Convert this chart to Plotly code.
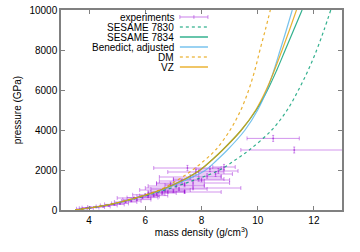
import plotly.graph_objects as go

# ---- model curves: density (g/cm^3) at given pressures (GPa) ----
pressure_grid = [0, 250, 500, 1000, 1500, 2000, 2500, 3000, 4000, 5000, 6000, 7000, 8000, 9000, 10000]
sesame_7830 = [3.5, 4.68, 5.45, 6.7, 7.75, 8.65, 9.2, 9.7, 10.5, 11.05, 11.45, 11.8, 12.1, 12.36, 12.6]
sesame_7834 = [3.5, 4.65, 5.4, 6.55, 7.35, 7.95, 8.37, 8.75, 9.42, 9.95, 10.35, 10.68, 10.98, 11.28, 11.58]
benedict_adj = [3.5, 4.65, 5.4, 6.6, 7.45, 8.15, 8.55, 8.92, 9.55, 10.0, 10.33, 10.58, 10.8, 11.02, 11.23]
dm = [3.5, 4.63, 5.37, 6.5, 7.15, 7.68, 8.12, 8.5, 9.02, 9.4, 9.68, 9.9, 10.08, 10.27, 10.45]
vz = [3.5, 4.65, 5.4, 6.55, 7.35, 7.95, 8.37, 8.75, 9.42, 9.93, 10.3, 10.6, 10.87, 11.13, 11.38]

# ---- experiments ----
exp_density = [3.75, 3.9, 4.05, 4.25, 4.5, 4.7, 4.9, 5.1, 5.3, 5.5, 5.7, 5.6, 5.9, 6.1, 6.3,
               6.0, 6.4, 6.6, 6.8, 7.0, 6.7, 7.2, 7.7, 7.1, 7.4, 6.9, 7.7, 8.0, 7.3, 7.9,
               7.6, 8.2, 8.5, 7.8, 8.6, 7.5, 8.3, 8.8, 7.4, 10.55, 11.3]
exp_pressure = [60, 90, 120, 150, 180, 230, 280, 330, 400, 450, 520, 600, 620, 680, 720,
                760, 800, 850, 900, 950, 1000, 1050, 1100, 1200, 1250, 1300, 1350, 1500, 1450, 1550,
                1650, 1700, 1800, 1900, 1950, 2100, 2050, 2150, 900, 3580, 3000]
exp_density_err = [0.2, 0.25, 0.3, 0.3, 0.25, 0.3, 0.35, 0.3, 0.4, 0.35, 0.5, 0.6, 0.55, 0.4, 0.5,
                   0.45, 0.3, 0.5, 0.6, 0.4, 0.9, 1.0, 1.7, 1.0, 0.7, 0.5, 1.3, 1.0, 0.8, 0.9,
                   1.1, 0.5, 0.6, 1.0, 0.7, 1.2, 0.5, 0.4, 1.3, 0.93, 1.9]
exp_pressure_err = [20, 25, 30, 30, 30, 35, 35, 40, 40, 40, 50, 50, 50, 60, 60,
                    60, 70, 70, 70, 80, 80, 80, 90, 90, 90, 100, 100, 100, 100, 110,
                    110, 110, 120, 120, 120, 130, 130, 130, 70, 150, 150]

x_ticks = [4, 6, 8, 10, 12]
y_ticks = [0, 2000, 4000, 6000, 8000, 10000]

PURPLE = "rgba(148,0,211,0.42)"
GREEN = "#009e73"
BLUE = "#56b4e9"
ORANGE = "#e69f00"

fig = go.Figure()

fig.add_trace(go.Scatter(
    x=exp_density, y=exp_pressure, mode="markers",
    marker=dict(color=PURPLE, size=2),
    error_x=dict(type="data", array=exp_density_err, color=PURPLE, thickness=1, width=2),
    error_y=dict(type="data", array=exp_pressure_err, color=PURPLE, thickness=1, width=1),
    showlegend=False))

curves = [
    (sesame_7830, GREEN, "dot"),
    (sesame_7834, GREEN, "solid"),
    (benedict_adj, BLUE, "solid"),
    (dm, ORANGE, "dot"),
    (vz, ORANGE, "solid"),
]
for dens, col, dash in curves:
    fig.add_trace(go.Scatter(
        x=dens, y=pressure_grid, mode="lines",
        line=dict(color=col, width=1.2, dash=dash, shape="spline", smoothing=1.0),
        opacity=0.8, showlegend=False))

# ---- manual gnuplot-style legend (text left of sample) ----
legend_items = [
    ("experiments", PURPLE, "solid", True),
    ("SESAME 7830", GREEN, "dot", False),
    ("SESAME 7834", GREEN, "solid", False),
    ("Benedict, adjusted", BLUE, "solid", False),
    ("DM", ORANGE, "dot", False),
    ("VZ", ORANGE, "solid", False),
]
shapes = []
annotations = []
x_text = 0.409
x0s, x1s = 0.423, 0.523
for i, (name, col, dash, caps) in enumerate(legend_items):
    yy = 0.965 - 0.05 * i
    annotations.append(dict(x=x_text, y=yy, xref="paper", yref="paper", text=name,
                            showarrow=False, xanchor="right", yanchor="middle",
                            font=dict(size=10, color="black")))
    shapes.append(dict(type="line", xref="paper", yref="paper", x0=x0s, x1=x1s, y0=yy, y1=yy,
                       line=dict(color=col, width=1.2, dash=dash)))
    if caps:
        for xc in (x0s, (x0s + x1s) / 2, x1s):
            shapes.append(dict(type="line", xref="paper", yref="paper", x0=xc, x1=xc,
                               y0=yy - 0.01, y1=yy + 0.01, line=dict(color=col, width=1)))

axis_common = dict(showline=True, linecolor="#808080", linewidth=1.5, mirror="ticks",
                   ticks="inside", ticklen=4, tickcolor="#808080", showgrid=False,
                   zeroline=False, tickfont=dict(size=10, color="black"), automargin=False,
                   ticklabeloverflow="allow")

fig.update_layout(
    width=360, height=252,
    margin=dict(l=61, r=18, t=10, b=42),
    paper_bgcolor="white", plot_bgcolor="white",
    font=dict(family="Liberation Sans, Arial, sans-serif", size=10, color="black"),
    xaxis=dict(range=[3, 13], tickvals=x_ticks,
               title=dict(text="mass density (g/cm<sup>3</sup>)", standoff=4, font=dict(size=10)),
               **axis_common),
    yaxis=dict(range=[0, 10000], tickvals=y_ticks, tickformat="d",
               title=dict(text="pressure (GPa)", standoff=6, font=dict(size=10)),
               **axis_common),
    shapes=shapes, annotations=annotations,
)

# remove the default page margin so the figure sits at the window's top-left corner
fig.write_html("out.html", config={"displayModeBar": False},
               post_script="document.body.style.margin='0';document.body.style.overflow='hidden';")
